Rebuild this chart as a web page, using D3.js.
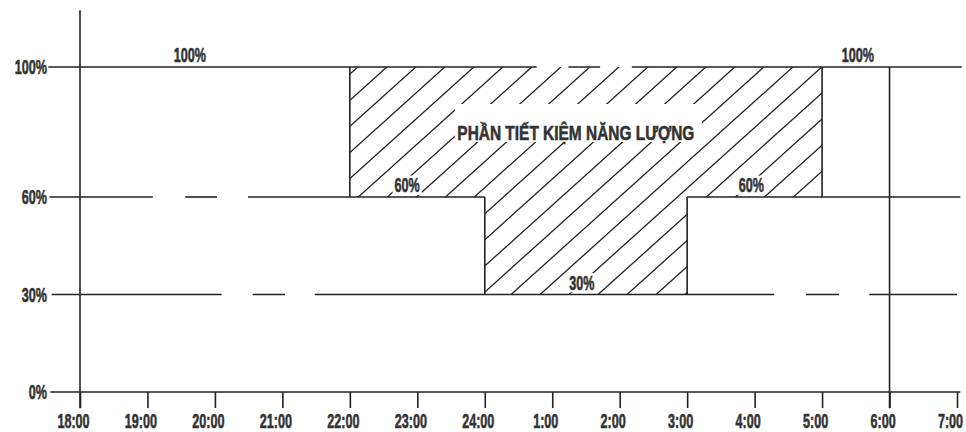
<!DOCTYPE html>
<html>
<head>
<meta charset="utf-8">
<script src="https://cdn.jsdelivr.net/npm/d3@7"></script>
<style>
  html, body { margin: 0; padding: 0; background: #fff; }
  svg { display: block; }
  text { font-family: "Liberation Sans", Arial, sans-serif; font-weight: bold; fill: #333; stroke: #333; stroke-width: 0.6px; }
</style>
</head>
<body>
<svg id="chart" width="966" height="432"></svg>
<script>
// ---- data ----
const timeLabels = ["18:00","19:00","20:00","21:00","22:00","23:00","24:00","1:00","2:00","3:00","4:00","5:00","6:00","7:00"];
const hourIndex = d3.range(timeLabels.length);            // hours since 18:00
const levelTicks = [0, 30, 60, 100];
const levelTickLabels = ["0%", "30%", "60%", "100%"];

// reference levels drawn as solid stretches (hours since 18:00) – gaps give the broken look
const level100Segments = [[-0.47, 6.77], [7.24, 7.71], [8.18, 13.07]];
const level60Segments  = [[-0.45, 1.08], [1.56, 2.03], [2.49, 6], [9, 13.05]];
const level30Segments  = [[-0.42, 2.1], [2.56, 3.04], [3.48, 10.29], [10.76, 11.25], [11.7, 13.0]];

// dimming profile steps (hour, level)
const stepVerticals = [
  { h: 4,  from: 60, to: 100 },
  { h: 6,  from: 30, to: 60 },
  { h: 9,  from: 30, to: 60 },
  { h: 11, from: 60, to: 100 },
  { h: 12, from: -5, to: 100 }
];
// saved-energy area outline
const savingArea = [[4,100],[4,60],[6,60],[6,30],[9,30],[9,60],[11,60],[11,100]];

// in-chart labels
const levelLabels = [
  { h: 1.63,  v: 100, text: "100%" },
  { h: 11.53, v: 100, text: "100%" },
  { h: 4.85,  v: 60,  text: "60%", bg: true },
  { h: 9.95,  v: 60,  text: "60%", bg: true },
  { h: 7.44,  v: 30,  text: "30%", bg: true }
];
const areaTitle = { h: 7.35, v: 80, text: "PHẦN TIẾT KIỆM NĂNG LƯỢNG" };

// ---- drawing ----
const svg = d3.select("#chart");
const x = d3.scaleLinear().domain([0, 13]).range([80, 957]);
const y = d3.scaleLinear().domain([0, 100]).range([392, 67]);
const ink = "#222";
const lw = 1.6;
const squeeze = 0.6;   // condensed lettering
const fs = 21;

// hatch clip
const defs = svg.append("defs");
defs.append("clipPath").attr("id", "saveClip")
  .append("path")
  .attr("d", d3.line().x(d => x(d[0])).y(d => y(d[1]))(savingArea) + "Z");

const hatchG = svg.append("g").attr("clip-path", "url(#saveClip)");
const spacing = 29, slope = 0.9;
const hx0 = x(4) + 37; // a hatch line meets the top edge here
const yTop = y(100), yBot = y(30);
const ks = d3.range(-40, 40);
hatchG.selectAll("line").data(ks).join("line")
  .attr("x1", k => hx0 + k * spacing - (yBot - yTop) / slope)
  .attr("y1", yBot)
  .attr("x2", k => hx0 + k * spacing + 5)
  .attr("y2", yTop - 5 * slope)
  .attr("stroke", ink).attr("stroke-width", 1.3);

// white box behind title
const titleX = x(areaTitle.h), titleY = y(areaTitle.v);
svg.append("rect").attr("x", titleX - 121).attr("y", titleY - 28).attr("width", 247).attr("height", 38).attr("fill", "#fff");

// reference level lines
function drawSegments(segs, v) {
  svg.append("g").selectAll("line").data(segs).join("line")
    .attr("x1", d => x(d[0])).attr("x2", d => x(d[1]))
    .attr("y1", y(v)).attr("y2", y(v))
    .attr("stroke", ink).attr("stroke-width", lw);
}
drawSegments(level100Segments, 100);
drawSegments(level60Segments, 60);
drawSegments(level30Segments, 30);

// step verticals
svg.append("g").selectAll("line").data(stepVerticals).join("line")
  .attr("x1", d => x(d.h)).attr("x2", d => x(d.h))
  .attr("y1", d => y(d.from)).attr("y2", d => y(d.to))
  .attr("stroke", ink).attr("stroke-width", lw);

// x axis
svg.append("line").attr("x1", x(-0.44)).attr("x2", x(13.05)).attr("y1", y(0)).attr("y2", y(0))
  .attr("stroke", ink).attr("stroke-width", lw);
const xAxis = d3.axisBottom(x).tickValues(hourIndex).tickSize(16).tickPadding(4)
  .tickFormat(i => timeLabels[i]);
const gx = svg.append("g").attr("transform", `translate(0,${y(0)})`).call(xAxis);
gx.select(".domain").remove();
gx.attr("font-family", null).attr("font-size", null);
gx.selectAll(".tick line").attr("stroke", ink).attr("stroke-width", lw);
gx.selectAll(".tick text")
  .attr("font-size", fs).attr("fill", "#333")
  .attr("x", 0).attr("y", 0).attr("dy", null)
  .attr("transform", `translate(-7,36) scale(${squeeze},1)`);

// y axis (vertical line)
svg.append("line").attr("x1", x(0)).attr("x2", x(0)).attr("y1", y(117.5)).attr("y2", y(-5))
  .attr("stroke", ink).attr("stroke-width", lw);

// y tick labels
svg.append("g").selectAll("text").data(levelTicks).join("text")
  .attr("transform", d => `translate(47,${y(d)}) scale(${squeeze},1)`)
  .attr("dy", "0.35em")
  .attr("text-anchor", "end").attr("font-size", fs)
  .text((d, i) => levelTickLabels[i]);

// in-chart level labels
const lg = svg.append("g");
levelLabels.forEach(d => {
  const cx = x(d.h), cy = y(d.v) - 5;
  const t = lg.append("text")
    .attr("transform", `translate(${cx},${cy}) scale(${squeeze},1)`)
    .attr("text-anchor", "middle").attr("font-size", fs)
    .text(d.text);
  if (d.bg) {
    const b = t.node().getBBox();
    lg.insert("rect", () => t.node())
      .attr("x", cx + b.x * squeeze - 2).attr("y", cy + b.y + 3)
      .attr("width", b.width * squeeze + 4).attr("height", b.height - 5)
      .attr("fill", "#fff");
  }
});

// area title
svg.append("text").attr("x", titleX).attr("y", titleY).attr("dy", "0.36em")
  .attr("text-anchor", "middle").attr("font-size", 21)
  .attr("textLength", 237).attr("lengthAdjust", "spacingAndGlyphs")
  .text(areaTitle.text);
</script>
</body>
</html>
